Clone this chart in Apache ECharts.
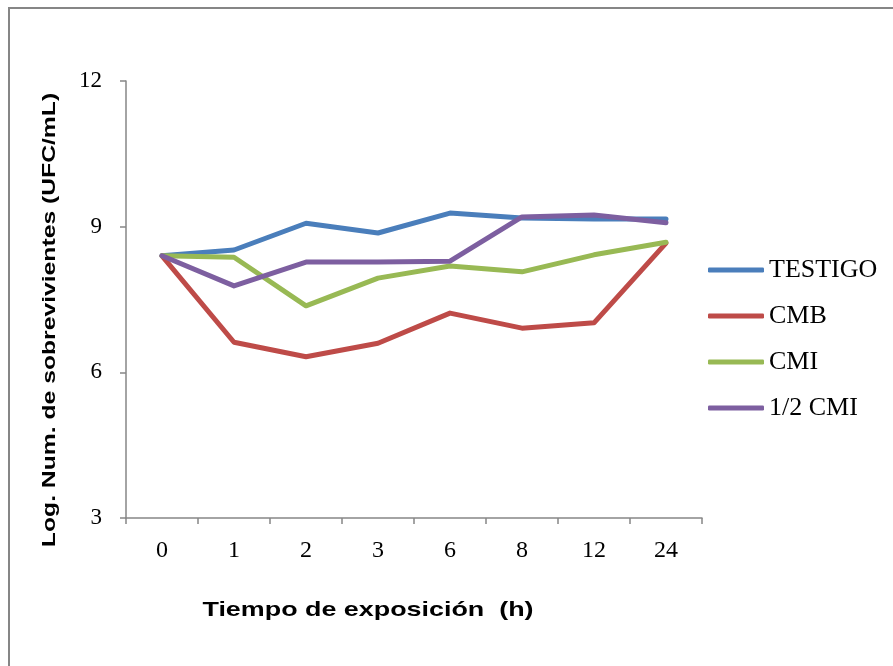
<!DOCTYPE html>
<html>
<head>
<meta charset="utf-8">
<script src="https://cdn.jsdelivr.net/npm/echarts@6/dist/echarts.min.js"></script>
<style>
  html, body { margin: 0; padding: 0; background: #fff; }
  #chart { width: 893px; height: 666px; }
</style>
</head>
<body>
<div id="chart"></div>
<script>
// Exposure times (h)
const categories = ['0', '1', '2', '3', '6', '8', '12', '24'];

// Log survivor counts (UFC/mL)
const testigo = [8.40, 8.52, 9.07, 8.87, 9.28, 9.18, 9.16, 9.16];
const cmb     = [8.40, 6.62, 6.32, 6.60, 7.22, 6.91, 7.02, 8.66];
const cmi     = [8.40, 8.37, 7.37, 7.94, 8.19, 8.07, 8.42, 8.68];
const halfCmi = [8.40, 7.78, 8.27, 8.27, 8.29, 9.20, 9.24, 9.08];

const seriesNames = ['TESTIGO', 'CMB', 'CMI', '1/2 CMI'];
const seriesData = [testigo, cmb, cmi, halfCmi];
const colors = ['#4A7EBB', '#BE4B48', '#98B954', '#7D5FA0'];

const yTicks = { min: 3, max: 12, interval: 3 };

const xTitle = 'Tiempo de exposición  (h)';
const yTitle = 'Log. Num. de sobrevivientes (UFC/mL)';

const serif = '"Liberation Serif", "Times New Roman", serif';
const sans = '"Liberation Sans", Arial, sans-serif';
const axisGray = '#868686';

const chart = echarts.init(document.getElementById('chart'), null, { renderer: 'canvas' });

chart.setOption({
  animation: false,
  backgroundColor: '#ffffff',
  color: colors,
  grid: { left: 126, right: 191, top: 81, bottom: 148, containLabel: false },
  legend: {
    orient: 'vertical',
    left: 708,
    top: 257,
    padding: 0,
    itemWidth: 56,
    itemHeight: 5,
    itemGap: 20,
    icon: 'roundRect',
    textStyle: { fontFamily: serif, fontSize: 26, color: '#000' },
    data: seriesNames
  },
  xAxis: {
    type: 'category',
    data: categories,
    boundaryGap: true,
    axisLine: { lineStyle: { color: axisGray, width: 1.5 } },
    axisTick: { show: true, inside: false, length: 6, lineStyle: { color: axisGray, width: 1.5 } },
    axisLabel: { fontFamily: serif, fontSize: 24, color: '#000', margin: 21 },
    splitLine: { show: false }
  },
  yAxis: {
    type: 'value',
    min: yTicks.min,
    max: yTicks.max,
    interval: yTicks.interval,
    axisLine: { show: true, lineStyle: { color: axisGray, width: 1.5 } },
    axisTick: { show: true, inside: false, length: 6, lineStyle: { color: axisGray, width: 1.5 } },
    axisLabel: { fontFamily: serif, fontSize: 23, color: '#000', margin: 24 },
    splitLine: { show: false }
  },
  graphic: [
    {
      type: 'rect',
      shape: { x: 9, y: 8, width: 1000, height: 1000 },
      style: { fill: 'none', stroke: axisGray, lineWidth: 2 },
      silent: true,
      z: -1
    },
    {
      // horizontal axis title, widened like the original layout
      type: 'text',
      x: 368,
      y: 610,
      scaleX: 1.28,
      style: {
        text: xTitle,
        fontFamily: sans, fontWeight: 'bold', fontSize: 21, fill: '#000',
        align: 'center', verticalAlign: 'middle'
      }
    },
    {
      // vertical axis title
      type: 'text',
      x: 50,
      y: 320,
      rotation: Math.PI / 2,
      scaleX: 1.3,
      style: {
        text: yTitle,
        fontFamily: sans, fontWeight: 'bold', fontSize: 19, fill: '#000',
        align: 'center', verticalAlign: 'middle'
      }
    }
  ],
  series: seriesNames.map((name, i) => ({
    name: name,
    type: 'line',
    data: seriesData[i],
    symbol: 'none',
    lineStyle: { width: 5, color: colors[i], cap: 'round', join: 'round' },
    itemStyle: { color: colors[i] }
  }))
});
</script>
</body>
</html>
